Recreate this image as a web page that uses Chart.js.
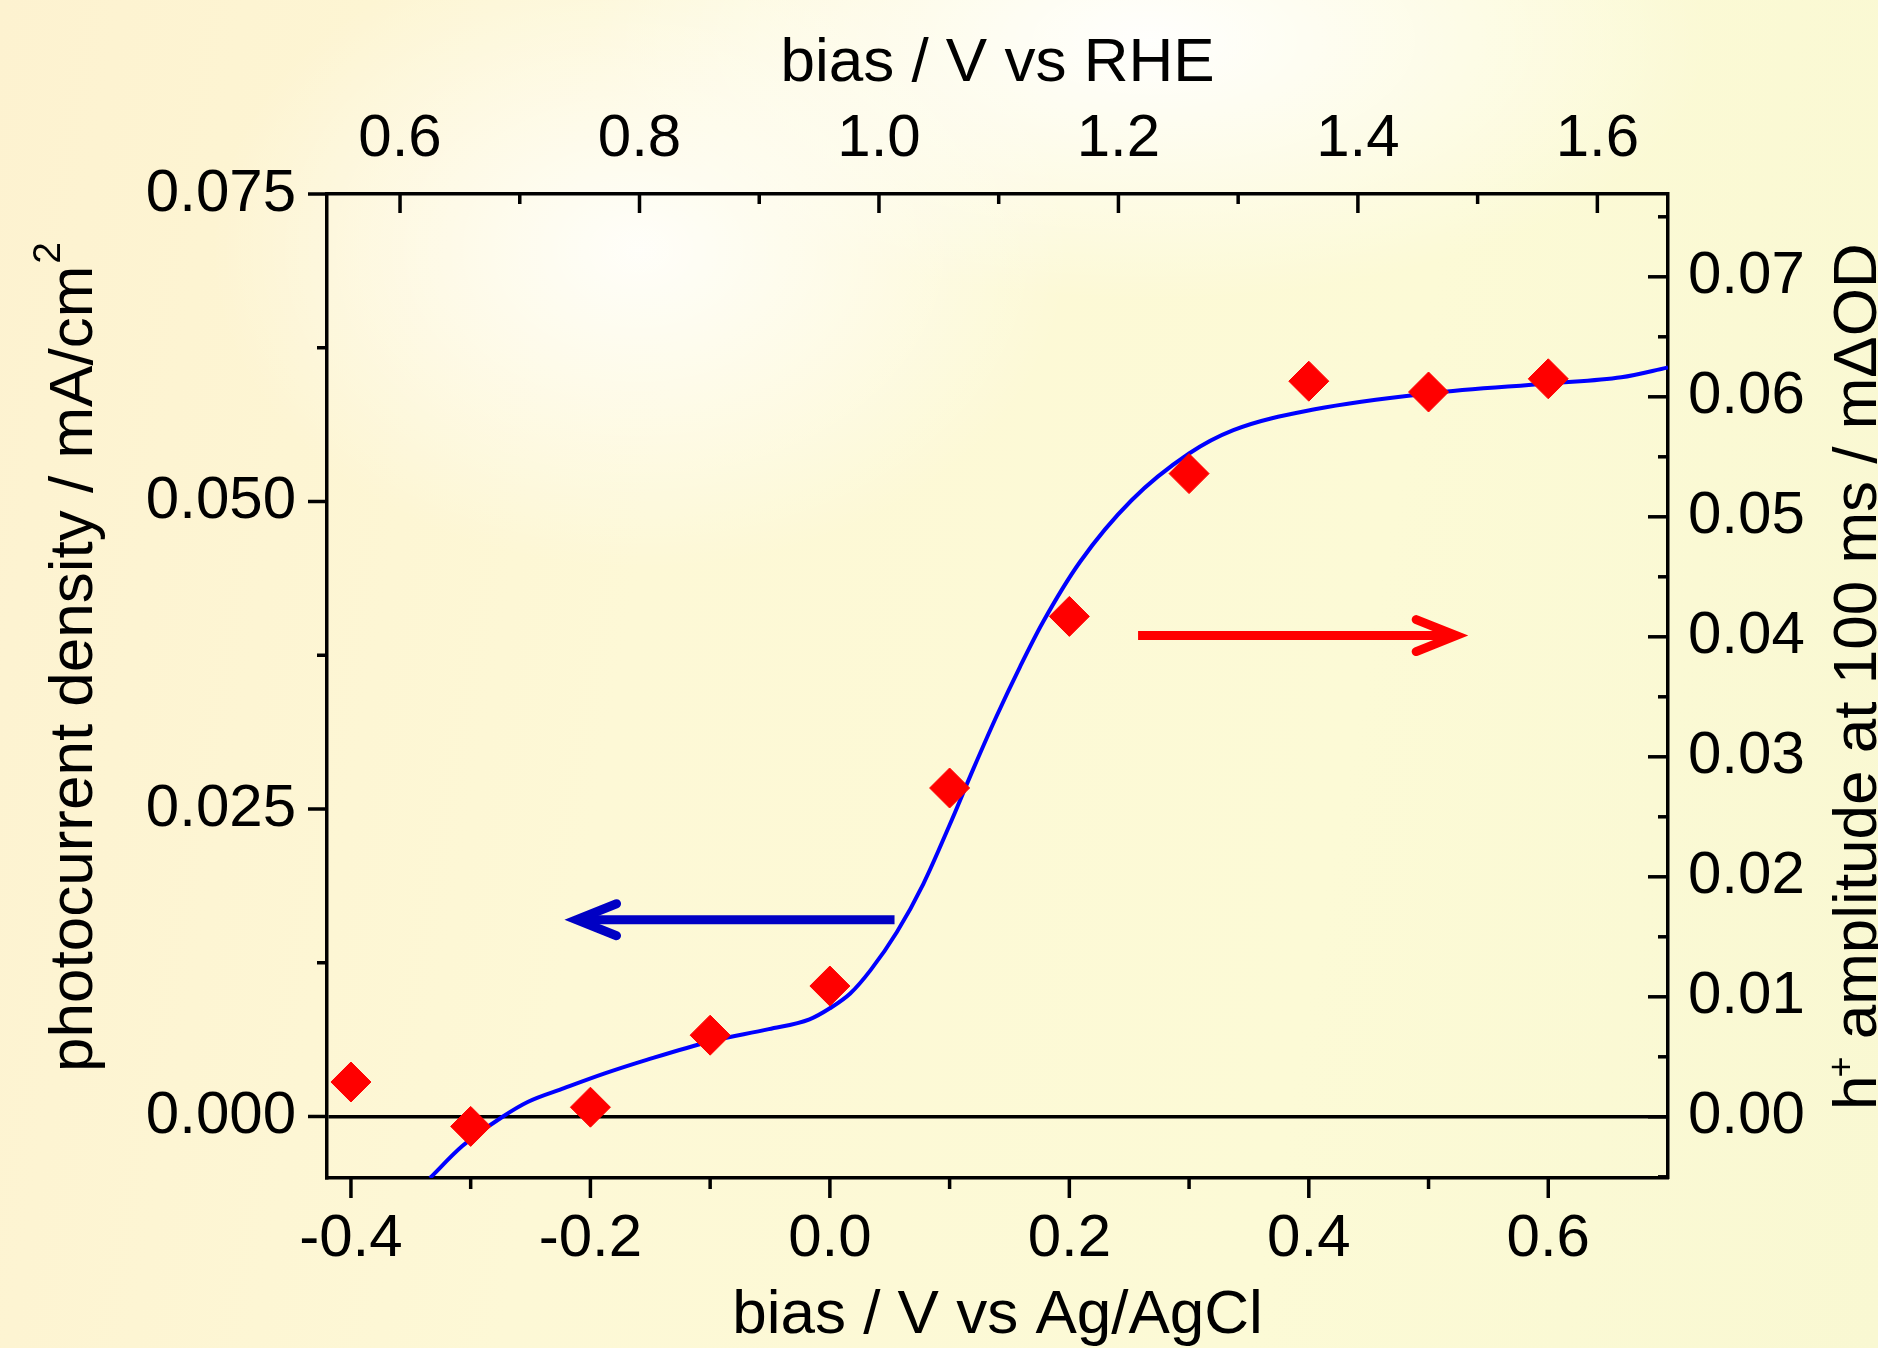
<!DOCTYPE html>
<html>
<head>
<meta charset="utf-8">
<title>Photocurrent and h+ amplitude vs bias</title>
<script src="https://cdn.jsdelivr.net/npm/chart.js@4.4.1/dist/chart.umd.min.js"></script>
<style>
    html, body { margin: 0; padding: 0; }
    body {
        width: 1878px;
        height: 1348px;
        overflow: hidden;
        background:
            radial-gradient(ellipse 430px 320px at 640px 250px, rgba(255,255,255,0.85), rgba(255,255,255,0) 100%),
            radial-gradient(ellipse 560px 260px at 1150px 40px, rgba(255,255,255,0.95), rgba(255,255,255,0) 100%),
            linear-gradient(100deg, #fdf2d0 0%, #fdf8d6 35%, #fcfad6 70%, #f9f8d2 100%);
    }
    canvas { display: block; }
</style>
</head>
<body>
<canvas id="chartCanvas" width="1878" height="1348"></canvas>

<script>
    // bias vs Ag/AgCl (V) where the TA amplitude was measured
    const biasPoints = [-0.4, -0.3, -0.2, -0.1, 0.0, 0.1, 0.2, 0.3, 0.4, 0.5, 0.6];
    // h+ amplitude at 100 ms (mΔOD), right axis
    const holeAmplitude = [0.0029, -0.0008, 0.0008, 0.0068, 0.0109, 0.0274, 0.0417, 0.0536, 0.0613, 0.0604, 0.0615];

    // photocurrent density curve (mA/cm2), left axis
    const curveBias = [-0.334, -0.307, -0.273, -0.252, -0.222, -0.188, -0.153, -0.100, -0.051, -0.017,
                       0.000, 0.017, 0.034, 0.056, 0.078, 0.100, 0.120, 0.139, 0.159, 0.178,
                       0.209, 0.252, 0.300, 0.337, 0.405, 0.501, 0.600, 0.661, 0.700];
    const curvePhotocurrent = [-0.0050, -0.0024, 0.0000, 0.0012, 0.0023, 0.0035, 0.0046, 0.0061, 0.0071, 0.0079,
                               0.0088, 0.0100, 0.0119, 0.0150, 0.0189, 0.0237, 0.0283, 0.0325, 0.0366, 0.0402,
                               0.0451, 0.0501, 0.0539, 0.0558, 0.0575, 0.0588, 0.0596, 0.0601, 0.0609];

    // ticks
    const agclTicks = [-0.4, -0.2, 0.0, 0.2, 0.4, 0.6];
    const agclMinorTicks = [-0.3, -0.1, 0.1, 0.3, 0.5];
    const rheTicks = [0.6, 0.8, 1.0, 1.2, 1.4, 1.6];
    const rheMinorTicks = [0.7, 0.9, 1.1, 1.3, 1.5];
    const currentTicks = [0.0, 0.025, 0.05, 0.075];
    const currentMinorTicks = [0.0125, 0.0375, 0.0625];
    const amplitudeTicks = [0.0, 0.01, 0.02, 0.03, 0.04, 0.05, 0.06, 0.07];
    const amplitudeMinorTicks = [-0.005, 0.005, 0.015, 0.025, 0.035, 0.045, 0.055, 0.065, 0.075];

    const rheOffset = 0.959; // V, Ag/AgCl -> RHE

    // arrows in data units: [from x, to x, y]
    const blueArrow = [0.054, -0.2216, 0.0160]; // left axis
    const redArrow = [0.2574, 0.5331, 0.0401];  // right axis

    const FONT = "'Liberation Sans', Arial, Helvetica, sans-serif";
    const AXIS_W = 3.5;

    function setTicks(values) {
        return scale => { scale.ticks = values.map(v => ({ value: v })); };
    }

    // minor/major tick marks, left+bottom point out, top+right point in
    const tickMarks = {
        id: 'tickMarks',
        afterDraw(chart) {
            const { ctx, chartArea: a, scales } = chart;
            ctx.save();
            ctx.strokeStyle = '#000';
            ctx.lineWidth = AXIS_W;
            const mark = (scale, values, len) => {
                values.forEach(v => {
                    const p = scale.getPixelForValue(v);
                    ctx.beginPath();
                    if (scale.id === 'x') { ctx.moveTo(p, a.bottom); ctx.lineTo(p, a.bottom + len); }
                    else if (scale.id === 'x2') { ctx.moveTo(p, a.top); ctx.lineTo(p, a.top + len); }
                    else if (scale.id === 'y') { ctx.moveTo(a.left, p); ctx.lineTo(a.left - len, p); }
                    else { ctx.moveTo(a.right, p); ctx.lineTo(a.right - len, p); }
                    ctx.stroke();
                });
            };
            mark(scales.x, agclTicks, 20);
            mark(scales.x, agclMinorTicks, 11);
            mark(scales.x2, rheTicks, 19);
            mark(scales.x2, rheMinorTicks, 10);
            mark(scales.y, currentTicks, 19);
            mark(scales.y, currentMinorTicks, 10);
            mark(scales.y2, amplitudeTicks, 20);
            mark(scales.y2, amplitudeMinorTicks, 10);
            ctx.restore();
        }
    };

    function drawArrow(ctx, x0, x1, y, color) {
        const dir = Math.sign(x1 - x0);
        ctx.strokeStyle = color;
        ctx.lineWidth = 9;
        ctx.lineCap = 'butt';
        ctx.beginPath();
        ctx.moveTo(x0, y);
        ctx.lineTo(x1 - dir * 14, y);
        ctx.stroke();
        ctx.lineCap = 'round';
        ctx.lineJoin = 'miter';
        ctx.miterLimit = 10;
        ctx.beginPath();
        ctx.moveTo(x1 - dir * 52, y - 16);
        ctx.lineTo(x1 - dir * 12, y);
        ctx.lineTo(x1 - dir * 52, y + 16);
        ctx.stroke();
    }

    const arrows = {
        id: 'arrows',
        afterDatasetsDraw(chart) {
            const { ctx, scales } = chart;
            ctx.save();
            drawArrow(ctx, scales.x.getPixelForValue(blueArrow[0]), scales.x.getPixelForValue(blueArrow[1]),
                scales.y.getPixelForValue(blueArrow[2]), '#0000c4');
            drawArrow(ctx, scales.x.getPixelForValue(redArrow[0]), scales.x.getPixelForValue(redArrow[1]),
                scales.y2.getPixelForValue(redArrow[2]), '#ff0000');
            ctx.restore();
        }
    };

    // rotated side titles with superscripts
    function drawRotated(ctx, x, y, parts) {
        ctx.save();
        ctx.translate(x, y);
        ctx.rotate(-Math.PI / 2);
        ctx.fillStyle = '#000';
        ctx.textAlign = 'left';
        ctx.textBaseline = 'alphabetic';
        let pos = 0;
        parts.forEach(p => {
            ctx.font = p.size + 'px ' + FONT;
            ctx.fillText(p.text, pos, -(p.rise || 0));
            pos += ctx.measureText(p.text).width + (p.gap || 0);
        });
        ctx.restore();
    }

    const sideTitles = {
        id: 'sideTitles',
        afterDraw(chart) {
            const ctx = chart.ctx;
            drawRotated(ctx, 92, 1072, [
                { text: 'photocurrent density / mA/cm', size: 62, gap: 2 },
                { text: '2', size: 39, rise: 32 }
            ]);
            drawRotated(ctx, 1876, 1110, [
                { text: 'h', size: 62, gap: -2 },
                { text: '+', size: 36, rise: 23 },
                { text: ' amplitude at 100 ms / m\u0394OD', size: 62 }
            ]);
        }
    };

    const ctx = document.getElementById('chartCanvas').getContext('2d');
    const chart = new Chart(ctx, {
        type: 'scatter',
        data: {
            datasets: [
                {
                    label: 'h+ amplitude',
                    data: biasPoints.map((b, i) => ({ x: b, y: holeAmplitude[i] })),
                    xAxisID: 'x',
                    yAxisID: 'y2',
                    pointStyle: 'rectRot',
                    pointRadius: 20,
                    backgroundColor: '#ff0000',
                    borderColor: '#ff0000',
                    borderWidth: 1,
                    showLine: false
                },
                {
                    label: 'photocurrent',
                    type: 'line',
                    data: curveBias.map((b, i) => ({ x: b, y: curvePhotocurrent[i] })),
                    xAxisID: 'x',
                    yAxisID: 'y',
                    borderColor: '#0000ff',
                    borderWidth: 4,
                    pointRadius: 0,
                    fill: false,
                    cubicInterpolationMode: 'monotone'
                }
            ]
        },
        options: {
            responsive: false,
            animation: false,
            devicePixelRatio: 1,
            layout: { padding: 0 },
            plugins: {
                legend: { display: false },
                tooltip: { enabled: false }
            },
            scales: {
                x: {
                    type: 'linear',
                    position: 'bottom',
                    min: -0.42,
                    max: 0.70,
                    afterBuildTicks: setTicks(agclTicks),
                    afterFit: s => { s.height = 170; },
                    grid: { display: false, drawTicks: false },
                    border: { display: true, color: '#000', width: AXIS_W },
                    ticks: {
                        autoSkip: false, maxRotation: 0, padding: 25, color: '#000',
                        font: { family: FONT, size: 60 },
                        callback: v => v.toFixed(1)
                    },
                    title: {
                        display: true, text: 'bias / V vs Ag/AgCl', color: '#000',
                        font: { family: FONT, size: 62, lineHeight: 1 },
                        padding: { top: 0, bottom: 1 }
                    }
                },
                x2: {
                    type: 'linear',
                    axis: 'x',
                    position: 'top',
                    min: -0.42 + rheOffset,
                    max: 0.70 + rheOffset,
                    afterBuildTicks: setTicks(rheTicks),
                    afterFit: s => { s.height = 194; },
                    grid: { display: false, drawTicks: false },
                    border: { display: true, color: '#000', width: AXIS_W },
                    ticks: {
                        autoSkip: false, maxRotation: 0, padding: 19, color: '#000',
                        font: { family: FONT, size: 60 },
                        callback: v => v.toFixed(1)
                    },
                    title: {
                        display: true, text: 'bias / V vs RHE', color: '#000',
                        font: { family: FONT, size: 62, lineHeight: 1 },
                        padding: { top: 33, bottom: 0 }
                    }
                },
                y: {
                    type: 'linear',
                    position: 'left',
                    min: -0.005,
                    max: 0.075,
                    afterBuildTicks: setTicks(currentTicks),
                    afterFit: s => { s.width = 327; },
                    grid: {
                        display: true, drawTicks: false, lineWidth: AXIS_W,
                        color: c => (c.tick && c.tick.value === 0) ? '#000' : 'rgba(0,0,0,0)'
                    },
                    border: { display: true, color: '#000', width: AXIS_W },
                    ticks: {
                        autoSkip: false, padding: 31, color: '#000',
                        font: { family: FONT, size: 60 },
                        callback: v => v.toFixed(3)
                    }
                },
                y2: {
                    type: 'linear',
                    position: 'right',
                    min: -0.0051,
                    max: 0.0769,
                    afterBuildTicks: setTicks(amplitudeTicks),
                    afterFit: s => { s.width = 210; },
                    grid: { display: false, drawTicks: false },
                    border: { display: true, color: '#000', width: AXIS_W },
                    ticks: {
                        autoSkip: false, padding: 20, color: '#000',
                        font: { family: FONT, size: 60 },
                        callback: v => v.toFixed(2)
                    }
                }
            }
        },
        plugins: [arrows, tickMarks, sideTitles]
    });
</script>
</body>
</html>
